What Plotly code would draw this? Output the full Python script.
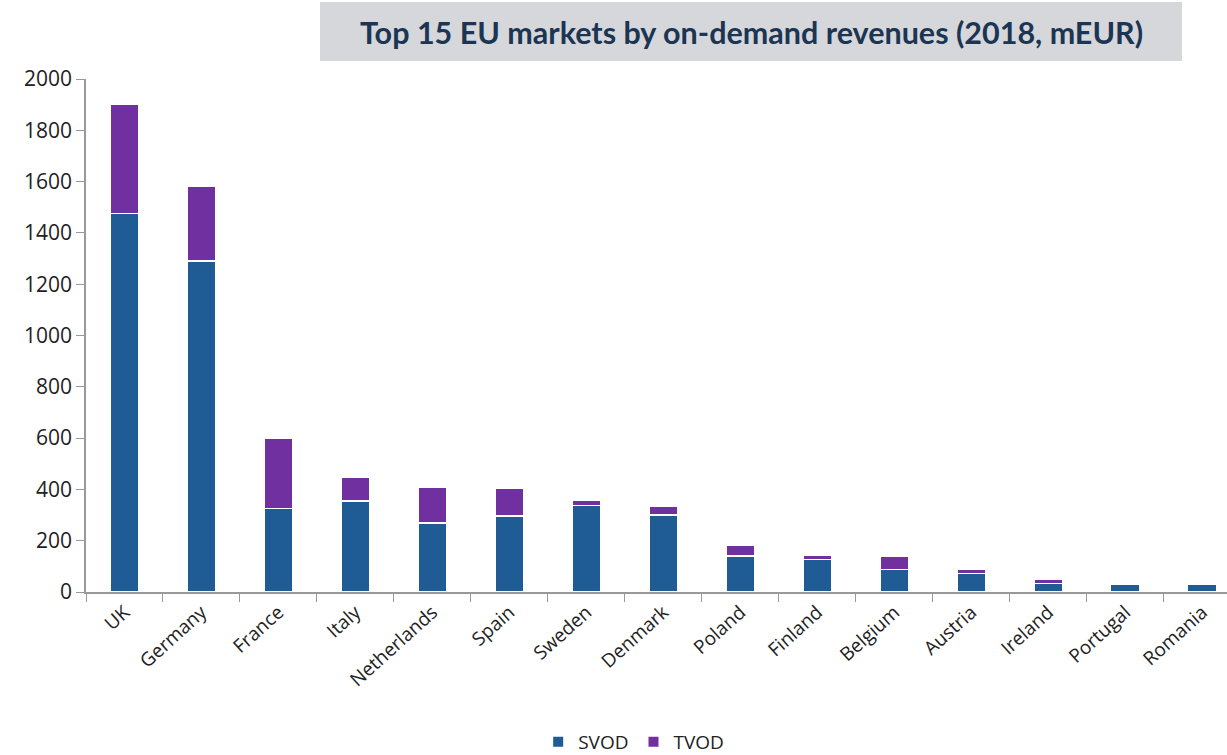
import plotly.graph_objects as go

countries = ["UK", "Germany", "France", "Italy", "Netherlands", "Spain", "Sweden",
             "Denmark", "Poland", "Finland", "Belgium", "Austria", "Ireland",
             "Portugal", "Romania"]
svod = [1475, 1290, 326, 355, 269, 296, 338, 300, 140, 127, 88, 73, 34, 32, 32]
tvod = [427, 291, 274, 94, 138, 107, 18, 35, 44, 18, 53, 17, 14, 0, 0]
y_ticks = [0, 200, 400, 600, 800, 1000, 1200, 1400, 1600, 1800, 2000]

SVOD_COLOR = "#1f5b94"
TVOD_COLOR = "#7030a0"
FONT = "Open Sans"

fig = go.Figure()
fig.add_trace(go.Bar(x=countries, y=svod, name="SVOD",
                     marker=dict(color=SVOD_COLOR, line=dict(color="white", width=1.5))))
fig.add_trace(go.Bar(x=countries, y=tvod, name="TVOD",
                     marker=dict(color=TVOD_COLOR, line=dict(color="white", width=1.5))))

L, R, T, B = 86, 0, 79, 163
W, H = 1227, 755
pw, ph = W - L - R, H - T - B

def px(x):
    return (x - L) / pw

def py(y):
    return (H - B - y) / ph

fig.update_layout(
    barmode="stack",
    bargap=0.62,
    width=W, height=H,
    margin=dict(l=L, r=R, t=T, b=B, autoexpand=False),
    paper_bgcolor="white", plot_bgcolor="white",
    font=dict(family=FONT, size=18, color="#222222"),
    showlegend=True,
    legend=dict(orientation="h", x=0.48, xanchor="center", y=py(742), yanchor="middle",
                font=dict(size=19, color="#222222"), traceorder="normal",
                itemwidth=30, itemsizing="constant"),
    xaxis=dict(range=[-0.5, 14.32], showline=True, linecolor="#999999", linewidth=1.5,
               ticks="outside", tickson="boundaries", ticklen=8, tickcolor="#999999",
               tickangle=-42, tickfont=dict(size=19, color="#222222"), showgrid=False,
               automargin=False),
    yaxis=dict(range=[0, 2000], tickvals=y_ticks, showline=True, linecolor="#999999",
               linewidth=1.5, ticks="outside", ticklen=8, tickcolor="#999999",
               showgrid=False, zeroline=False, tickfont=dict(size=21, color="#222222"),
               automargin=False),
    shapes=[dict(type="rect", xref="paper", yref="paper",
                 x0=px(320), x1=px(1182), y0=py(61), y1=py(2),
                 fillcolor="#d6d7db", line=dict(width=0), layer="below")],
    annotations=[dict(text="<b>Top 15 EU markets by on-demand revenues (2018, mEUR)</b>",
                      xref="paper", yref="paper", x=px(751), y=py(32),
                      xanchor="center", yanchor="middle", showarrow=False,
                      font=dict(family="Lato", size=30.5, color="#1b3553"))],
)

fig.write_html("out.html", config={"displayModeBar": False},
               post_script="document.body.style.margin='0';document.body.style.overflow='hidden';")
